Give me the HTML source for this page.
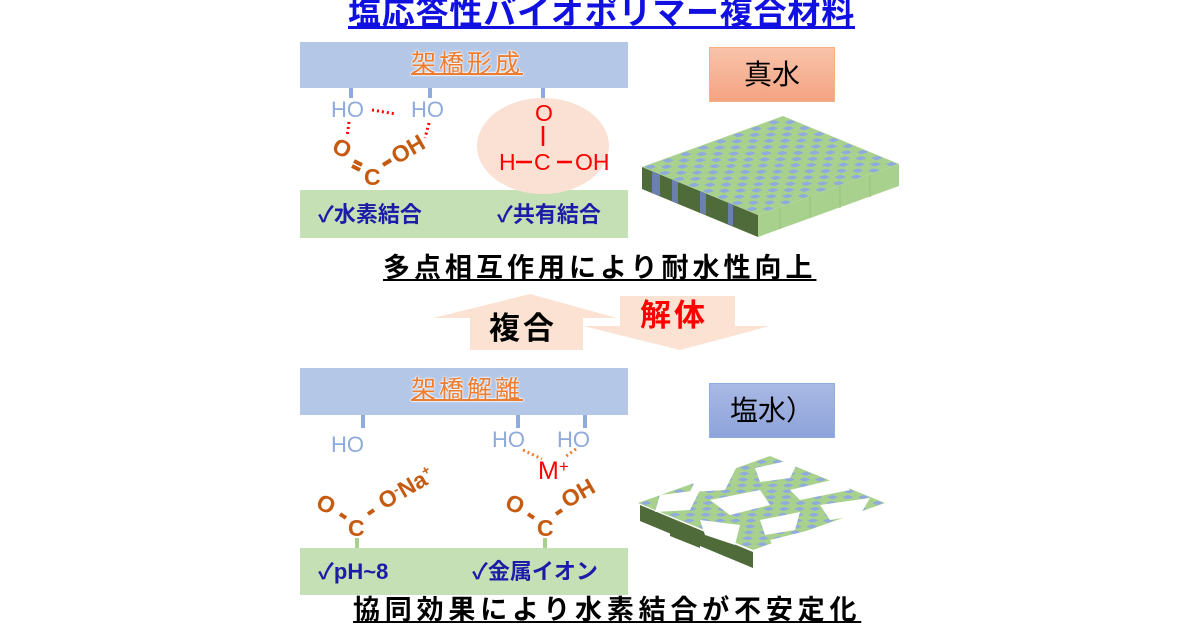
<!DOCTYPE html>
<html><head><meta charset="utf-8"><style>
body{margin:0;width:1200px;height:630px;overflow:hidden;background:#fff;position:relative;font-family:"Liberation Sans","Noto Sans CJK JP",sans-serif}
.a{position:absolute;white-space:nowrap;line-height:1}
.lab{color:#ed7d31;font-size:25px;letter-spacing:3px;text-decoration:underline;text-decoration-thickness:2px;text-shadow:0 0 2px #fff,0 0 2px #fff,0 0 1px #fff}
.chk{color:#1c1ca8;font-weight:bold;font-size:22px}
.ho{color:#8faadc;font-size:22px}
.or{color:#c55a11;font-weight:bold;font-size:23px}
.rd{color:#f00;font-size:23px}
</style></head><body>
<div class="a" style="left:348px;top:-4px;font-size:33px;font-weight:bold;color:#1010e0;text-decoration:underline;letter-spacing:0.8px">塩応答性バイオポリマー複合材料</div>

<svg width="1200" height="630" style="position:absolute;left:0;top:0">
<defs>
<pattern id="ck" width="2" height="2" patternUnits="userSpaceOnUse">
<rect width="2" height="2" fill="#a9d18e"/>
<rect x="0.15" y="0.15" width="0.75" height="0.75" rx="0.2" fill="#8faadc"/>
<rect x="1.15" y="1.15" width="0.75" height="0.75" rx="0.2" fill="#8faadc"/>
</pattern>
</defs>
<rect x="300" y="42" width="328" height="46" fill="#b4c7e7"/>
<rect x="300" y="190" width="328" height="48" fill="#c5e0b4"/>
<rect x="300" y="368" width="328" height="47" fill="#b4c7e7"/>
<rect x="300" y="548" width="328" height="47" fill="#c5e0b4"/>
<g stroke="#8faadc" stroke-width="4">
<line x1="351" y1="88" x2="351" y2="98"/><line x1="430" y1="88" x2="430" y2="98"/><line x1="543" y1="88" x2="543" y2="98"/>
<line x1="363" y1="415" x2="363" y2="428"/><line x1="518" y1="415" x2="518" y2="428"/><line x1="585" y1="415" x2="585" y2="428"/>
</g>
<g stroke="#a9d18e" stroke-width="4">
<line x1="543" y1="178" x2="543" y2="190"/><line x1="357" y1="538" x2="357" y2="548"/><line x1="545" y1="538" x2="545" y2="548"/>
</g>
<ellipse cx="543" cy="146" rx="66" ry="48" fill="#fbe0d4"/>
<g stroke="#ff0000" stroke-width="3" stroke-dasharray="2,3" fill="none">
<line x1="372" y1="110" x2="396" y2="114"/><line x1="349" y1="122" x2="347" y2="137"/><line x1="429" y1="123" x2="425" y2="138"/>
</g>
<g stroke="#ed7d31" stroke-width="3" stroke-dasharray="2,3" fill="none">
<line x1="523" y1="450" x2="542" y2="459"/><line x1="576" y1="449" x2="565" y2="457"/>
</g>
<g stroke="#ff0000" stroke-width="2.5">
<line x1="543" y1="126" x2="543" y2="146"/><line x1="516" y1="162" x2="532" y2="162"/><line x1="557" y1="162" x2="572" y2="162"/>
</g>
<g stroke="#c55a11" stroke-width="4">
<line x1="354" y1="161" x2="362" y2="165"/><line x1="352" y1="166" x2="360" y2="170"/>
<line x1="383" y1="165" x2="391" y2="160"/>
<line x1="340" y1="514" x2="346" y2="518"/><line x1="368" y1="514" x2="374" y2="510"/>
<line x1="528" y1="514" x2="534" y2="518"/><line x1="556" y1="514" x2="562" y2="510"/>
</g>
<polygon points="530,294 617,318 583,318 583,350 470,350 470,318 433,318" fill="#fbe2d2"/>
<polygon points="620,296 735,296 735,326 770,326 680,350 583,326 620,326" fill="#fbe2d2"/>
<polygon points="642,167 758,215 758,237 642,189" fill="#4f6b3a"/>
<g fill="#6b7fb0"><polygon points="652,171 660,174 660,196 652,193"/><polygon points="672,179 678,182 678,204 672,201"/><polygon points="700,191 706,193 706,215 700,213"/><polygon points="728,202 733,204 733,226 728,224"/></g>
<polygon points="758,215 899,164 899,186 758,237" fill="#a9d18e"/>
<g stroke="#98c07e" stroke-width="1"><line x1="780" y1="207" x2="780" y2="229"/><line x1="810" y1="196" x2="810" y2="218"/><line x1="840" y1="186" x2="840" y2="208"/><line x1="870" y1="175" x2="870" y2="197"/></g>
<g transform="matrix(8.8125,-3.1875,7.25,3,642,167)"><rect width="16" height="16" fill="url(#ck)"/></g>
<polygon points="640,505 753,552 753,568 640,521" fill="#4f6b3a"/>
<g transform="matrix(8.25,-2.9375,7.1875,2.9375,638,503)"><rect width="16" height="16" fill="url(#ck)"/></g>
<g fill="#fff">
<polygon points="700,470 740,460 725,490 690,492"/>
<polygon points="755,468 800,458 790,478 760,482"/>
<polygon points="660,495 700,490 690,510 655,512"/>
<polygon points="710,500 760,490 770,505 730,515"/>
<polygon points="790,490 840,478 850,490 800,500"/>
<polygon points="810,465 845,470 830,480"/>
<polygon points="700,520 740,525 735,545 705,535"/>
<polygon points="760,520 800,512 795,530 765,535"/>
<polygon points="820,505 870,498 860,515 830,520"/>
<polygon points="770,540 810,530 830,540 780,560"/>
<polygon points="640,480 670,470 665,490 645,495"/>
<polygon points="850,515 900,500 900,530 860,530"/>
<polygon points="720,455 760,450 750,462"/>
</g>
<polygon points="670,518 700,530 700,548 670,536" fill="#4f6b3a"/>
</svg>

<div class="a lab" style="left:411px;top:52px">架橋形成</div>
<div class="a lab" style="left:411px;top:378px">架橋解離</div>

<div class="a ho" style="left:331px;top:99px">HO</div>
<div class="a ho" style="left:411px;top:99px">HO</div>
<div class="a or" style="left:333px;top:137px;transform:rotate(25deg)">O</div>
<div class="a or" style="left:364px;top:166px">C</div>
<div class="a or" style="left:391px;top:138px;transform:rotate(-30deg)">OH</div>

<div class="a rd" style="left:535px;top:102px">O</div>
<div class="a rd" style="left:499px;top:151px">H</div>
<div class="a rd" style="left:534px;top:151px">C</div>
<div class="a rd" style="left:575px;top:151px">OH</div>

<div class="a chk" style="left:318px;top:204px">✓水素結合</div>
<div class="a chk" style="left:497px;top:204px">✓共有結合</div>

<div class="a" style="left:709px;top:47px;width:124px;height:53px;background:linear-gradient(#f9c3aa,#f4a382);border:1px solid #f4b183;font-size:28px;text-align:center;line-height:53px">真水</div>
<div class="a" style="left:709px;top:383px;width:124px;height:53px;background:linear-gradient(#aab9e4,#8da3da);border:1px solid #8faadc;font-size:28px;text-align:center;line-height:53px">塩水）</div>

<div class="a" style="left:383px;top:255px;font-size:27px;font-weight:bold;text-decoration:underline;letter-spacing:4px">多点相互作用により耐水性向上</div>
<div class="a" style="left:489px;top:313px;font-size:31px;font-weight:bold;letter-spacing:3px">複合</div>
<div class="a" style="left:640px;top:300px;font-size:31px;font-weight:bold;color:#f00;letter-spacing:3px">解体</div>

<div class="a ho" style="left:331px;top:434px">HO</div>
<div class="a ho" style="left:492px;top:429px">HO</div>
<div class="a ho" style="left:557px;top:429px">HO</div>
<div class="a" style="left:538px;top:458px;color:#f00;font-size:25px">M<span style="font-size:17px;vertical-align:7px">+</span></div>

<div class="a or" style="left:317px;top:493px;transform:rotate(25deg)">O</div>
<div class="a or" style="left:348px;top:517px">C</div>
<div class="a or" style="left:376px;top:476px;transform:rotate(-30deg)">O<span style="font-size:14px;vertical-align:7px">-</span>Na<span style="font-size:13px;vertical-align:9px">+</span></div>
<div class="a or" style="left:506px;top:493px;transform:rotate(25deg)">O</div>
<div class="a or" style="left:537px;top:517px">C</div>
<div class="a or" style="left:561px;top:482px;transform:rotate(-30deg)">OH</div>

<div class="a chk" style="left:318px;top:561px">✓pH~8</div>
<div class="a chk" style="left:472px;top:561px">✓金属イオン</div>

<div class="a" style="left:353px;top:597px;font-size:27px;font-weight:bold;text-decoration:underline;letter-spacing:4.8px">協同効果により水素結合が不安定化</div>
</body></html>
